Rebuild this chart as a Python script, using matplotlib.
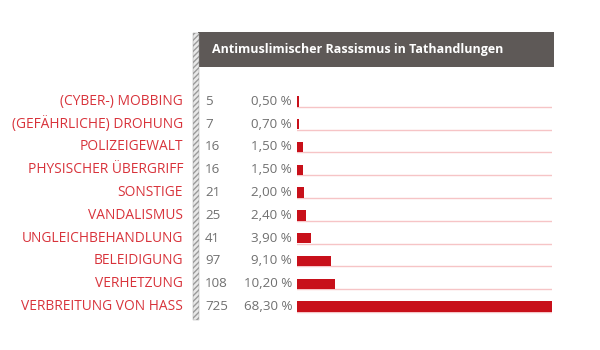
import matplotlib
matplotlib.use("Agg")
import matplotlib.pyplot as plt
from matplotlib.patches import Rectangle
from matplotlib.transforms import blended_transform_factory

# data, top to bottom
categories = ["(CYBER-) MOBBING", "(GEFÄHRLICHE) DROHUNG", "POLIZEIGEWALT",
              "PHYSISCHER ÜBERGRIFF", "SONSTIGE", "VANDALISMUS",
              "UNGLEICHBEHANDLUNG", "BELEIDIGUNG", "VERHETZUNG",
              "VERBREITUNG VON HASS"]
counts = [5, 7, 16, 16, 21, 25, 41, 97, 108, 725]
percents = [0.5, 0.7, 1.5, 1.5, 2.0, 2.4, 3.9, 9.1, 10.2, 68.3]
title = "Antimuslimischer Rassismus in Tathandlungen"

RED = "#c8101a"
LABEL_RED = "#d8333b"
PINK = "#f6c4c6"
GREY = "#707070"
HEADER = "#5e5957"

W, H = 600, 350
fig = plt.figure(figsize=(6, 3.5), dpi=100)
plt.rcParams['font.family'] = ['Open Sans', 'DejaVu Sans']

def fx(px):
    return px / W

def fy(py):
    return 1 - py / H

# bar axes
x0, x1, y_top, y_bot = 297, 552, 90, 318
ax = fig.add_axes([fx(x0), fy(y_bot), fx(x1 - x0), (y_bot - y_top) / H])
n = len(categories)
ypos = list(range(n))
ax.set_xlim(0, max(counts))
ax.set_ylim(n - 0.5, -0.5)
ax.axis("off")

for y in ypos:
    ax.plot([0, max(counts)], [y + 0.24, y + 0.24], color=PINK, lw=1, zorder=1)
ax.barh(ypos, counts, height=0.46, color=RED, zorder=2)

tr = blended_transform_factory(fig.transFigure, ax.transData)
for y, cat, c, p in zip(ypos, categories, counts, percents):
    ax.text(fx(183), y, cat, transform=tr, ha="right", va="center",
            color=LABEL_RED, fontsize=9.9)
    ax.text(fx(205), y, str(c), transform=tr, ha="left", va="center",
            color=GREY, fontsize=9.6)
    ax.text(fx(292), y, f"{p:.2f}".replace(".", ",") + " %", transform=tr,
            ha="right", va="center", color=GREY, fontsize=9.6)

# header box
fig.patches.append(Rectangle((fx(198), fy(67)), fx(554 - 198), (67 - 32) / H,
                             transform=fig.transFigure, facecolor=HEADER,
                             edgecolor="none", zorder=1))
fig.text(fx(212), fy(50), title, color="white", fontsize=9.0,
         fontweight="bold", ha="left", va="center")

# hatched vertical stripe
plt.rcParams['hatch.color'] = "#9a9a9a"
fig.patches.append(Rectangle((fx(193), fy(320)), fx(6), (320 - 33) / H,
                             transform=fig.transFigure, facecolor="#e8e8e8",
                             edgecolor="#9a9a9a", lw=0.3, hatch="//////",
                             zorder=2))

fig.savefig("out.png", dpi=100)
